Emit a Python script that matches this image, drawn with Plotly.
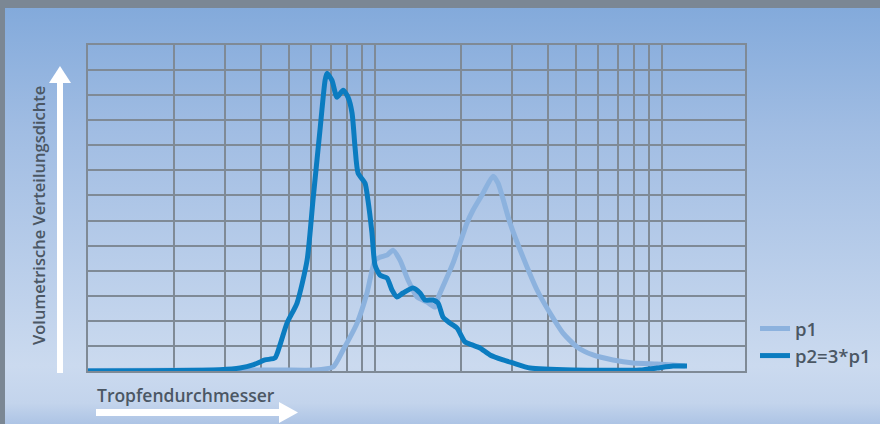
import base64
import plotly.graph_objects as go

# ---- data ----
p1_d = [1.0, 4.67, 6.08, 7.14, 7.74, 8.66, 9.38, 10.0, 10.41, 11.01, 11.55, 12.22,
        13.03, 14.01, 15.18, 16.19, 16.58, 18.70, 20.92, 21.95, 23.79, 25.77, 26.83,
        29.54, 32.79, 36.69, 40.72, 45.19, 50.55, 57.5, 67.5, 79.3, 96.1, 109.2, 120.3]
p1_v = [0.02, 0.04, 0.04, 0.16, 0.84, 1.91, 3.11, 4.42, 4.54, 4.62, 4.82, 4.42,
        3.63, 2.95, 2.75, 2.55, 2.91, 4.30, 5.90, 6.41, 7.09, 7.77, 7.49,
        5.90, 4.54, 3.23, 2.31, 1.51, 0.96, 0.64, 0.44, 0.32, 0.28, 0.24, 0.20]

p2_d = [1.0, 1.644, 2.455, 2.884, 3.385, 3.757, 4.137, 4.482, 4.667, 4.935, 5.35,
        5.80, 6.08, 6.43, 6.70, 6.80, 7.08, 7.37, 7.74, 8.05, 8.32, 8.52, 8.73,
        9.23, 9.45, 9.76, 10.0, 10.41, 11.01, 11.46, 11.93, 12.52, 13.56, 14.35,
        14.94, 15.93, 16.58, 17.26, 18.25, 19.31, 20.59, 21.78, 23.22, 25.16,
        27.92, 30.26, 34.68, 48.97, 83.8, 96.1, 109.2, 122.2]
p2_v = [0.0, 0.01, 0.03, 0.05, 0.12, 0.24, 0.44, 0.52, 1.04, 1.91, 2.71,
        4.42, 6.81, 9.6, 11.59, 11.87, 11.59, 10.92, 11.2, 10.92, 10.28, 8.92, 7.89,
        7.49, 6.81, 5.5, 4.22, 3.82, 3.71, 3.23, 2.95, 3.11, 3.31, 3.11,
        2.83, 2.83, 2.71, 2.15, 1.91, 1.71, 1.16, 1.04, 0.92, 0.64,
        0.44, 0.32, 0.12, 0.04, 0.04, 0.12, 0.20, 0.20]

x_grid = [1, 2, 3, 4, 5, 6, 7, 8, 9, 10, 20, 30, 40, 50, 60, 70, 80, 90, 100]

# ---- figure geometry ----
W, H = 880, 424
L, R, T, B = 88, 745, 45, 371
PW, PH = R - L, B - T

def px(x):
    return (x - L) / PW

def py(y):
    return (B - y) / PH

svg = f'''<svg xmlns="http://www.w3.org/2000/svg" width="{W}" height="{H}" viewBox="0 0 {W} {H}" preserveAspectRatio="none">
<defs><linearGradient id="g" x1="0" y1="0" x2="0" y2="1">
<stop offset="0" stop-color="#83aadb"/>
<stop offset="0.3" stop-color="#a1bde3"/>
<stop offset="0.86" stop-color="#cbdaef"/>
<stop offset="0.95" stop-color="#c3d4ec"/>
<stop offset="1" stop-color="#adc4e5"/>
</linearGradient></defs>
<rect x="0" y="0" width="{W}" height="{H}" fill="#7b8794"/>
<rect x="5" y="8" width="{W-5}" height="{H-8}" fill="url(#g)"/>
</svg>'''
src = "data:image/svg+xml;base64," + base64.b64encode(svg.encode()).decode()

fig = go.Figure()
fig.add_trace(go.Scatter(x=p1_d, y=p1_v, name="p1", mode="lines",
                         line=dict(color="#8cb2de", width=5, shape="spline", smoothing=0.6)))
fig.add_trace(go.Scatter(x=p2_d, y=p2_v, name="p2=3*p1", mode="lines",
                         line=dict(color="#0b7cc0", width=5, shape="spline", smoothing=0.6)))

gridc = "#7f8a96"
fig.update_xaxes(type="log", range=[0, PW / 287], tickvals=x_grid, showticklabels=False,
                 showgrid=True, gridcolor=gridc, gridwidth=1.5, ticks="",
                 showline=True, linecolor=gridc, linewidth=1.5, mirror=True, zeroline=False)
fig.update_yaxes(range=[0, 13], dtick=1, showticklabels=False, showgrid=True,
                 gridcolor=gridc, gridwidth=1.5, ticks="", showline=True,
                 linecolor=gridc, linewidth=1.5, mirror=True, zeroline=False)

shapes = []
# vertical arrow
shapes.append(dict(type="rect", xref="paper", yref="paper",
                   x0=px(57), x1=px(63), y0=py(373), y1=py(82),
                   fillcolor="white", line=dict(width=0), layer="above"))
shapes.append(dict(type="path", xref="paper", yref="paper",
                   path=f"M {px(49)},{py(83)} L {px(60)},{py(66)} L {px(71)},{py(83)} Z",
                   fillcolor="white", line=dict(width=0)))
# horizontal arrow
shapes.append(dict(type="rect", xref="paper", yref="paper",
                   x0=px(96), x1=px(280), y0=py(416), y1=py(409),
                   fillcolor="white", line=dict(width=0)))
shapes.append(dict(type="path", xref="paper", yref="paper",
                   path=f"M {px(279)},{py(402)} L {px(298)},{py(412.5)} L {px(279)},{py(423)} Z",
                   fillcolor="white", line=dict(width=0)))

txt = "#4b5764"
fnt = dict(family="Open Sans", size=16.5, color=txt, weight=600)
annotations = [
    dict(text="Volumetrische Verteilungsdichte", xref="paper", yref="paper",
         x=px(38), y=py(216), textangle=-90, showarrow=False, font=fnt,
         xanchor="center", yanchor="middle"),
    dict(text="Tropfendurchmesser", xref="paper", yref="paper",
         x=px(95), y=py(395), showarrow=False, font=dict(fnt, size=17.5),
         xanchor="left", yanchor="middle"),
]

fig.update_layout(
    width=W, height=H,
    margin=dict(l=L, r=W - R, t=T, b=H - B, autoexpand=False),
    paper_bgcolor="#a9c2e4", plot_bgcolor="rgba(0,0,0,0)",
    images=[dict(source=src, xref="paper", yref="paper", x=-L / PW, y=B / PH,
                 sizex=W / PW, sizey=H / PH, sizing="stretch", layer="below",
                 xanchor="left", yanchor="top")],
    shapes=shapes, annotations=annotations,
    showlegend=True,
    legend=dict(x=px(755), y=py(310), xanchor="left", yanchor="top",
                bgcolor="rgba(0,0,0,0)", font=dict(fnt, size=18.5), tracegroupgap=0),
)

fig.write_html("out.html", config={"displayModeBar": False},
               post_script="document.body.style.margin='0';document.body.style.overflow='hidden';")
